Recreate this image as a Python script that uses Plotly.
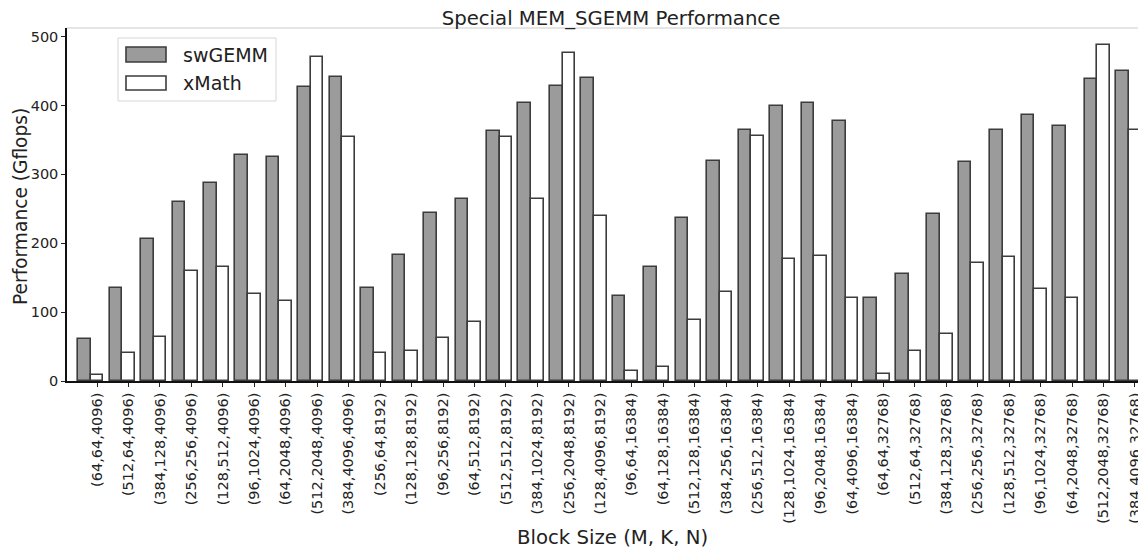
import plotly.graph_objects as go

categories = [
    "(64,64,4096)", "(512,64,4096)", "(384,128,4096)", "(256,256,4096)",
    "(128,512,4096)", "(96,1024,4096)", "(64,2048,4096)", "(512,2048,4096)",
    "(384,4096,4096)",
    "(256,64,8192)", "(128,128,8192)", "(96,256,8192)", "(64,512,8192)",
    "(512,512,8192)", "(384,1024,8192)", "(256,2048,8192)", "(128,4096,8192)",
    "(96,64,16384)", "(64,128,16384)", "(512,128,16384)", "(384,256,16384)",
    "(256,512,16384)", "(128,1024,16384)", "(96,2048,16384)", "(64,4096,16384)",
    "(64,64,32768)", "(512,64,32768)", "(384,128,32768)", "(256,256,32768)",
    "(128,512,32768)", "(96,1024,32768)", "(64,2048,32768)", "(512,2048,32768)",
    "(384,4096,32768)",
]

swgemm = [61, 135, 206, 260, 288, 328, 326, 427, 442,
          135, 183, 244, 264, 363, 403, 428, 440,
          123, 165, 236, 320, 364, 399, 403, 378,
          121, 156, 243, 318, 365, 386, 370, 438, 450]

xmath = [9, 41, 64, 160, 166, 127, 116, 470, 355,
         41, 43, 62, 86, 354, 264, 477, 239,
         15, 21, 88, 129, 356, 177, 181, 120,
         10, 43, 68, 172, 180, 133, 121, 488, 364]

bar_w = 0.4
idx = list(range(len(categories)))
sw_x = [i for i in idx]
xm_x = [i + bar_w for i in idx]

fig = go.Figure()
fig.add_trace(go.Bar(
    x=sw_x, y=swgemm, width=bar_w, name="swGEMM",
    marker=dict(color="#9b9b9b", line=dict(color="#3c3c3c", width=1.6)),
    showlegend=False,
))
fig.add_trace(go.Bar(
    x=xm_x, y=xmath, width=bar_w, name="xMath",
    marker=dict(color="#ffffff", line=dict(color="#3c3c3c", width=1.6)),
    showlegend=False,
))

# page body has an 8px margin; layout below is expressed in screen pixels
OFF = 8
FW, FH = 1146 - OFF, 548 - OFF
# plot area in screen pixels: x 67..1146, y 28..381
L, R, T, B = 67, 1146, 28, 381
W, H = R - L, B - T

def px(x):
    return (x - L) / W

def py(y):
    return (B - y) / H

shapes = [
    # top light spine
    dict(type="line", xref="paper", yref="paper", x0=0, x1=1, y0=1, y1=1,
         line=dict(color="#cccccc", width=1.2)),
    # legend frame
    dict(type="rect", xref="paper", yref="paper", x0=px(118), x1=px(276),
         y0=py(101), y1=py(38), line=dict(color="#d6d6d6", width=1),
         fillcolor="rgba(255,255,255,0.85)", layer="above"),
    dict(type="rect", xref="paper", yref="paper", x0=px(126), x1=px(166),
         y0=py(62), y1=py(47), line=dict(color="#3c3c3c", width=1.6),
         fillcolor="#9b9b9b", layer="above"),
    dict(type="rect", xref="paper", yref="paper", x0=px(126), x1=px(166),
         y0=py(90), y1=py(76), line=dict(color="#3c3c3c", width=1.6),
         fillcolor="#ffffff", layer="above"),
]

annotations = [
    dict(text="swGEMM", xref="paper", yref="paper", x=px(181), y=py(55),
         xanchor="left", yanchor="middle", showarrow=False,
         font=dict(size=19, color="#222222")),
    dict(text="xMath", xref="paper", yref="paper", x=px(181), y=py(83),
         xanchor="left", yanchor="middle", showarrow=False,
         font=dict(size=19, color="#222222")),
    # axis titles
    dict(text="Performance (Gflops)", xref="paper", yref="paper", x=px(21), y=py(207),
         xanchor="center", yanchor="middle", textangle=-90, showarrow=False,
         font=dict(size=18.6, color="#222222")),
    dict(text="Block Size (M, K, N)", xref="paper", yref="paper", x=px(612), y=py(537),
         xanchor="center", yanchor="middle", showarrow=False,
         font=dict(size=19.7, color="#222222")),
]

fig.update_layout(
    width=FW, height=FH,
    margin=dict(l=L - OFF, r=0, t=T - OFF, b=FH - (B - OFF), autoexpand=False),
    plot_bgcolor="white", paper_bgcolor="white",
    barmode="overlay",
    bargap=0,
    font=dict(family="DejaVu Sans", color="#222222"),
    title=dict(text="Special MEM_SGEMM Performance", x=(611 - OFF) / FW, xanchor="center",
               y=1 - (18.5 - OFF) / FH, yanchor="middle",
               font=dict(size=19.7, color="#222222")),
    shapes=shapes,
    annotations=annotations,
)

fig.update_xaxes(
    range=[-0.554, 33.75], automargin=False,
    tickmode="array", tickvals=xm_x, ticktext=categories,
    tickangle=-90, tickfont=dict(size=14.5, color="#222222"),
    ticks="outside", ticklen=4, tickcolor="#222222", tickwidth=1,
    showline=True, linecolor="#111111", linewidth=1.5,
    showgrid=False, zeroline=False,
)
fig.update_yaxes(
    range=[0, 512.6], automargin=False,
    tickvals=[0, 100, 200, 300, 400, 500],
    tickfont=dict(size=14.5, color="#222222"),
    ticks="outside", ticklen=4, tickcolor="#222222", tickwidth=1,
    showline=True, linecolor="#111111", linewidth=1.5,
    showgrid=False, zeroline=False,
)

fig.write_html("out.html")
